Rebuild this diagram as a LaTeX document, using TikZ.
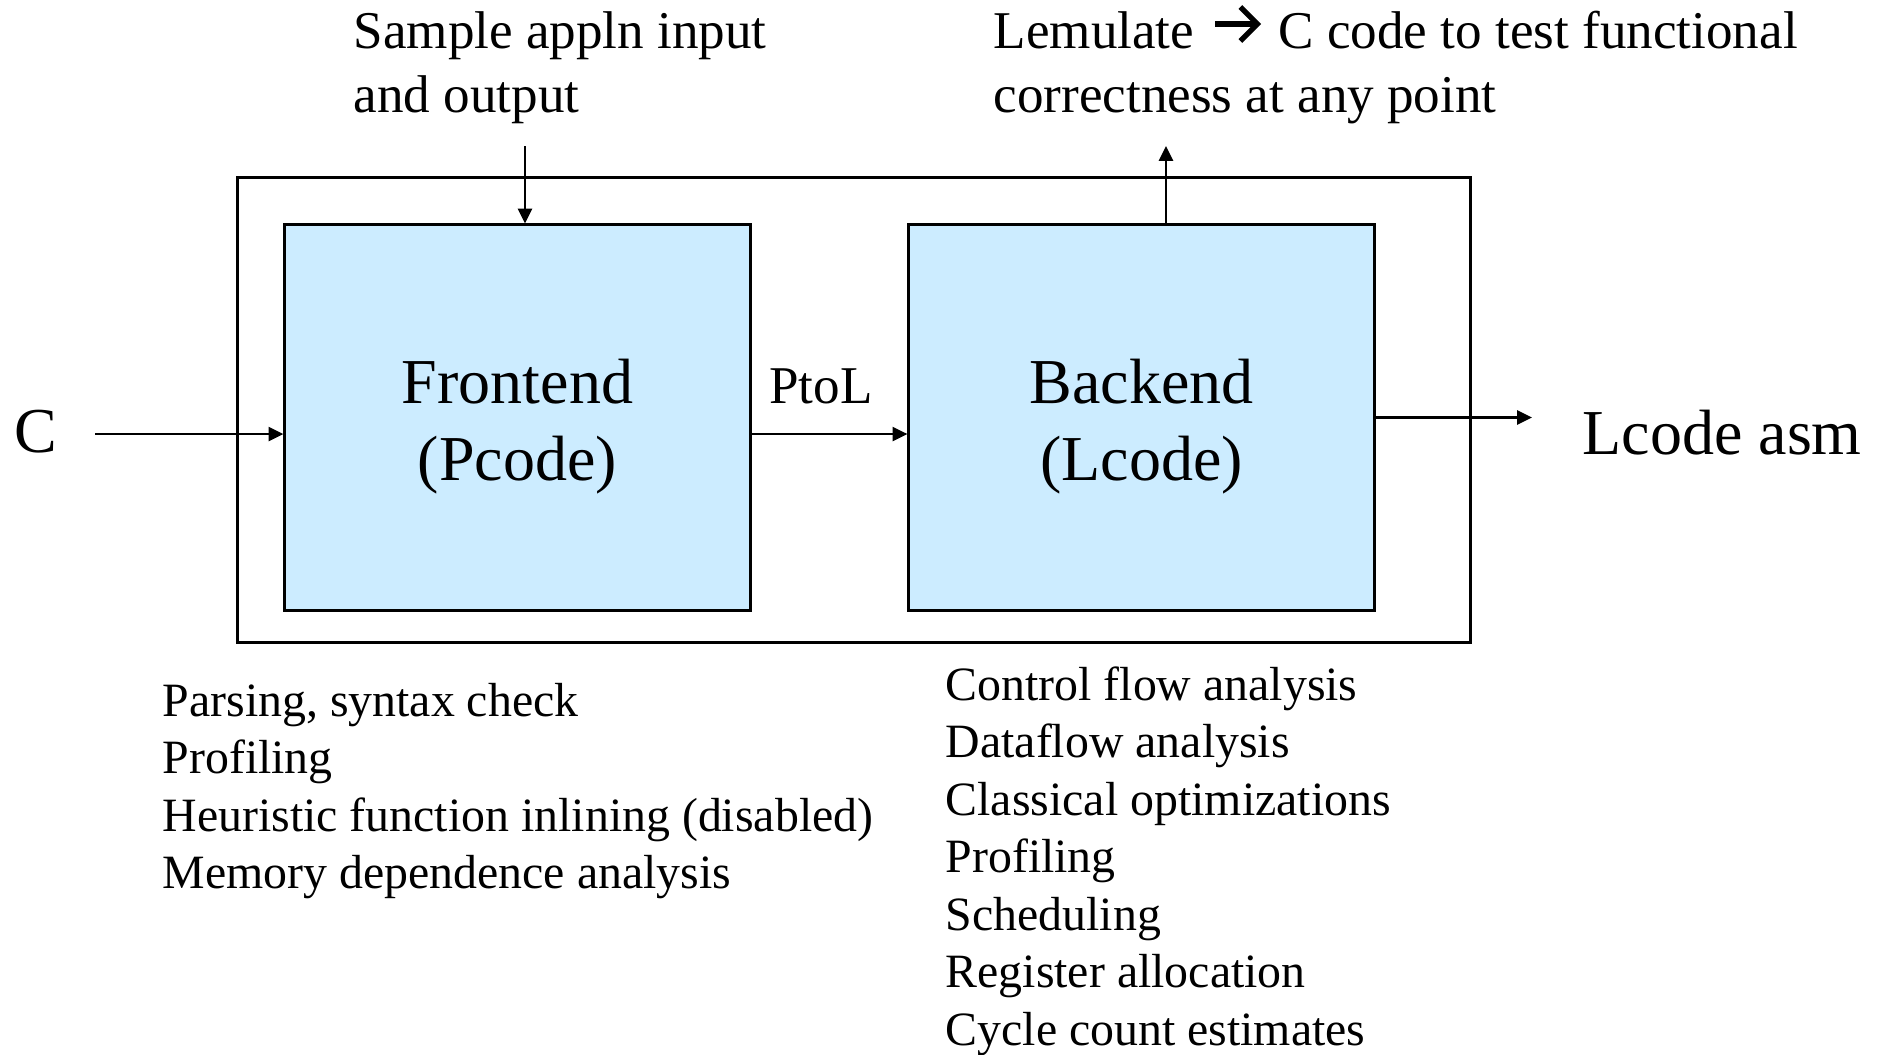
\documentclass[tikz,border=0pt]{standalone}
\usepackage{fontspec}
\setmainfont{Liberation Serif}
\usetikzlibrary{arrows.meta,positioning}
\definecolor{boxblue}{RGB}{204,236,255}

% thick arrow used inside the Lemulate note
\newcommand{\wingarrow}{\tikz[x=1cm,y=1cm,baseline=0pt,line width=1.5pt]{%
  \draw (0,0.24) -- (0.41,0.24); \draw (0.25,0.41) -- (0.42,0.24) -- (0.25,0.07);}}

\tikzset{
  big/.style={inner sep=0pt, font=\fontsize{18.2}{21.9}\selectfont},
  note/.style={inner sep=0pt, align=left, anchor=base west, font=\fontsize{15.1}{18.2}\selectfont},
  item/.style={inner sep=0pt, anchor=base west, font=\fontsize{13.6}{16.4}\selectfont},
  stage/.style={draw, line width=0.85pt, fill=boxblue, minimum width=4.65cm, minimum height=3.85cm,
    align=center, text height=40pt, text depth=4pt, font=\fontsize{18.2}{21.9}\selectfont},
  flow/.style={-{Triangle[length=4.2pt,width=4pt]}, line width=0.6pt},
}

\begin{document}
\begin{tikzpicture}[x=0.01cm, y=-0.01cm]
\useasboundingbox (0,0) rectangle (1879,1054);
% compiler frame and the two stages
\node[draw, line width=0.85pt, minimum width=12.32cm, minimum height=4.64cm, inner sep=0pt] (compiler) at (854,410) {};
\node[stage] (front) at (517.5,417.5) {Frontend\\(Pcode)};
\node[stage] (back) at (1141.5,417.5) {Backend\\(Lcode)};

% input and output
\node[big, anchor=base west] (src) at (14,452) {C};
\node[big, anchor=base west] (sink) at (1582,454) {Lcode asm};
\node[note, anchor=base] (ptol) at (821,403) {PtoL};
\coordinate (fin) at ([yshift=-1.65mm]front.west);
\draw[flow] ([xshift=3.7mm]src.east |- fin) -- (fin);
\draw[flow] (front.east |- fin) -- (back.west |- fin);
\draw[flow, shorten >=5mm] (back.east) -- (back.east -| sink.west);

% top notes (base = last line)
\node[note] (sample) at (353,112) {Sample appln input\\and output};
\node[note] (lemu) at (993,112) {Lemulate\hspace{1.5pt} \wingarrow\hspace{1.5pt} C code to test functional\\correctness at any point};
\coordinate (tin) at (525,146);
\coordinate (tout) at (1166,146);
\draw[flow] (tin) -- (tin |- front.north);
\draw[flow] (tout |- back.north) -- (tout);

% what each stage does
\foreach \txt [count=\i from 0] in {{Parsing, syntax check}, Profiling,
    {Heuristic function inlining (disabled)}, {Memory dependence analysis}}
  \node[item] (fe\i) at (162,716+57.5*\i) {\txt};
\foreach \txt [count=\i from 0] in {Control flow analysis, Dataflow analysis,
    Classical optimizations, Profiling, Scheduling, Register allocation, Cycle count estimates}
  \node[item] (be\i) at (945,700+57.5*\i) {\txt};
\end{tikzpicture}
\end{document}
